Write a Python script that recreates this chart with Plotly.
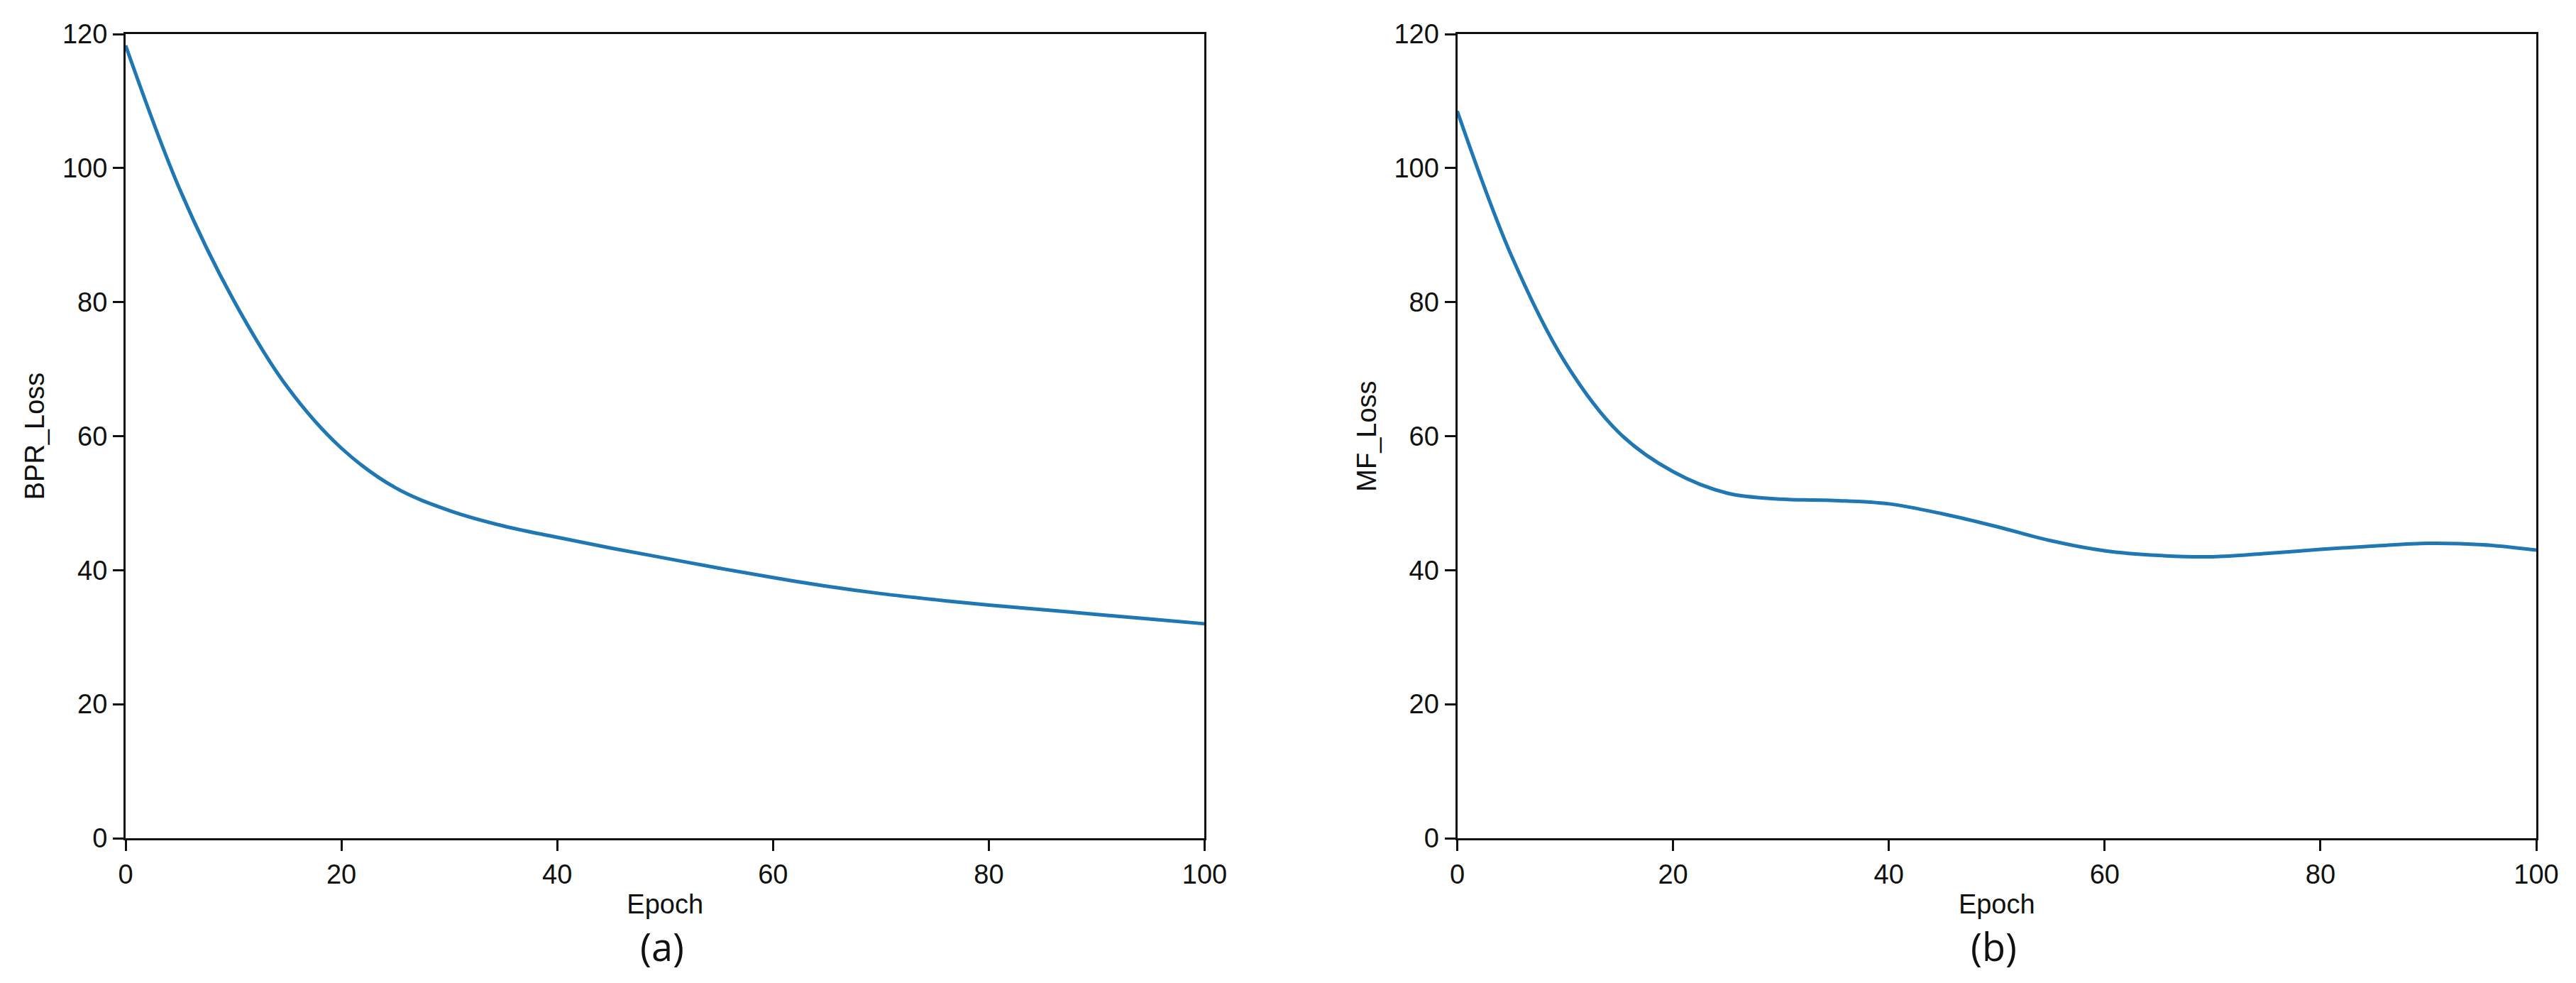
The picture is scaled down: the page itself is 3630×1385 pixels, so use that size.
import plotly.graph_objects as go
from plotly.subplots import make_subplots

# values
epoch = [0, 5, 10, 15, 20, 25, 30, 35, 40, 45, 50, 55, 60, 65, 70, 75, 80, 85, 90, 95, 100]
bpr_loss = [118.3, 96.9, 80.3, 67.3, 58.2, 52.3, 48.9, 46.6, 44.9, 43.3, 41.8, 40.3, 38.9, 37.6,
            36.5, 35.6, 34.8, 34.1, 33.4, 32.7, 32.0]
mf_loss = [108.5, 87.0, 71.0, 60.5, 54.7, 51.5, 50.6, 50.4, 49.9, 48.4, 46.5, 44.4, 42.9, 42.2,
           42.0, 42.5, 43.1, 43.6, 44.0, 43.8, 43.0]

x_ticks = [0, 20, 40, 60, 80, 100]
y_ticks = [0, 20, 40, 60, 80, 100, 120]

LINE_BLUE = "#1f77b4"
TICK_FONT = dict(family="Liberation Sans, Arial, sans-serif", size=38, color="#111111")

fig = make_subplots(rows=1, cols=2, horizontal_spacing=0.1048)

for col, ys in enumerate([bpr_loss, mf_loss], start=1):
    fig.add_trace(
        go.Scatter(x=epoch, y=ys, mode="lines",
                   line=dict(color=LINE_BLUE, width=5, shape="spline", smoothing=1.0),
                   showlegend=False),
        row=1, col=col,
    )

axis_common = dict(
    showline=True, linecolor="#111111", linewidth=3, mirror=True,
    ticks="outside", ticklen=15, tickwidth=3, tickcolor="#111111",
    showgrid=False, zeroline=False, tickfont=TICK_FONT, automargin=False,
)

for col, ylabel in [(1, "BPR_Loss"), (2, "MF_Loss")]:
    fig.update_xaxes(
        range=[0, 100], tickvals=x_ticks,
        title=dict(text="Epoch", font=TICK_FONT, standoff=9),
        row=1, col=col, **axis_common,
    )
    fig.update_yaxes(
        range=[0, 120], tickvals=y_ticks,
        title=dict(text=ylabel, font=TICK_FONT, standoff=14),
        row=1, col=col, **axis_common,
    )

# panel captions under each subplot
for xref, label in [("x domain", "(a)"), ("x2 domain", "(b)")]:
    fig.add_annotation(
        text=label, xref=xref, yref="paper", x=0.497, y=-0.134, yanchor="middle",
        showarrow=False, font=dict(family="Open Sans, sans-serif", size=54, color="#111111"),
    )

# the page body adds an 8px offset, so the margins are shifted to compensate
fig.update_layout(
    width=3630, height=1385,
    margin=dict(l=169, r=64, t=40, b=212),
    paper_bgcolor="white", plot_bgcolor="white",
)

fig.write_html("out.html")
